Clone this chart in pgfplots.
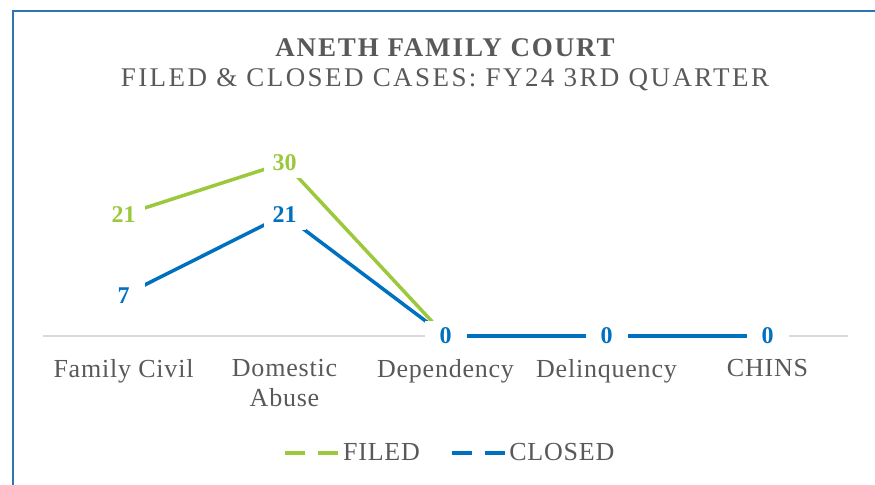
\documentclass[border=0pt]{standalone}
\usepackage{pgfplots}
\pgfplotsset{compat=1.18}
\usepackage{fontspec}
\setmainfont{Liberation Serif}
\newfontfamily\tfont[LetterSpace=7]{Liberation Serif}
\newfontfamily\sfont[LetterSpace=9]{Liberation Serif}
\newfontfamily\lfont[LetterSpace=3]{Liberation Serif}
\definecolor{fgreen}{HTML}{9BC83C}
\definecolor{cblue}{HTML}{0070C0}
\definecolor{txt}{HTML}{595959}
\definecolor{brd}{HTML}{2E75B6}
\definecolor{axl}{HTML}{D9D9D9}
\begin{document}
\begin{tikzpicture}
\path[use as bounding box] (0,0) rectangle (875bp,485bp);
\draw[brd, line width=2bp] (13bp,0) -- (13bp,474bp) -- (875bp,474bp);
\node[txt, font=\tfont\bfseries\fontsize{27bp}{30bp}\selectfont] at (445bp,437bp) {ANETH FAMILY COURT};
\node[txt, font=\sfont\fontsize{27bp}{30bp}\selectfont] at (445bp,405bp) {FILED \& CLOSED CASES: FY24 3RD QUARTER};
\begin{axis}[
  at={(43bp,149bp)}, anchor=south west,
  scale only axis, width=805bp, height=202bp,
  xmin=-0.5, xmax=4.5, ymin=0, ymax=35,
  clip=false,
  axis line style={draw=none},
  ytick=\empty,
  xtick={0,1,2,3,4},
  xticklabels={Family Civil,{Domestic\\Abuse},Dependency,Delinquency,CHINS},
  major tick length=0pt,
  xticklabel style={align=center, text=txt, font=\lfont\fontsize{26bp}{30bp}\selectfont, yshift=-20bp},
  legend columns=2,
  legend style={at={(0.5056,-0.579)}, anchor=center, draw=none, fill=none,
    font=\lfont\fontsize{26bp}{30bp}\selectfont, text=txt,
    /tikz/every even column/.append style={column sep=28bp}},
  legend image code/.code={\draw[#1, dash pattern=on 20bp off 13bp, line width=3.5bp] (0bp,0bp) -- (54bp,0bp);},
  nodes near coords={\pgfmathprintnumber[assume math mode=true]{\pgfplotspointmeta}},
  every node near coord/.append style={anchor=center, fill=white, inner sep=0pt, minimum width=42bp, minimum height=30bp,
    font=\bfseries\fontsize{24bp}{28bp}\selectfont},
]
\draw[axl, line width=1.5bp] (axis cs:-0.5,0) -- (axis cs:4.5,0);
\addplot[fgreen, line width=3.5bp, every node near coord/.append style={text=fgreen}] coordinates {(0,21) (1,30) (2,0) (3,0) (4,0)};
\addlegendentry{FILED}
\addplot[cblue, line width=3.5bp, every node near coord/.append style={text=cblue}] coordinates {(0,7) (1,21) (2,0) (3,0) (4,0)};
\addlegendentry{CLOSED}
\end{axis}
\end{tikzpicture}
\end{document}
